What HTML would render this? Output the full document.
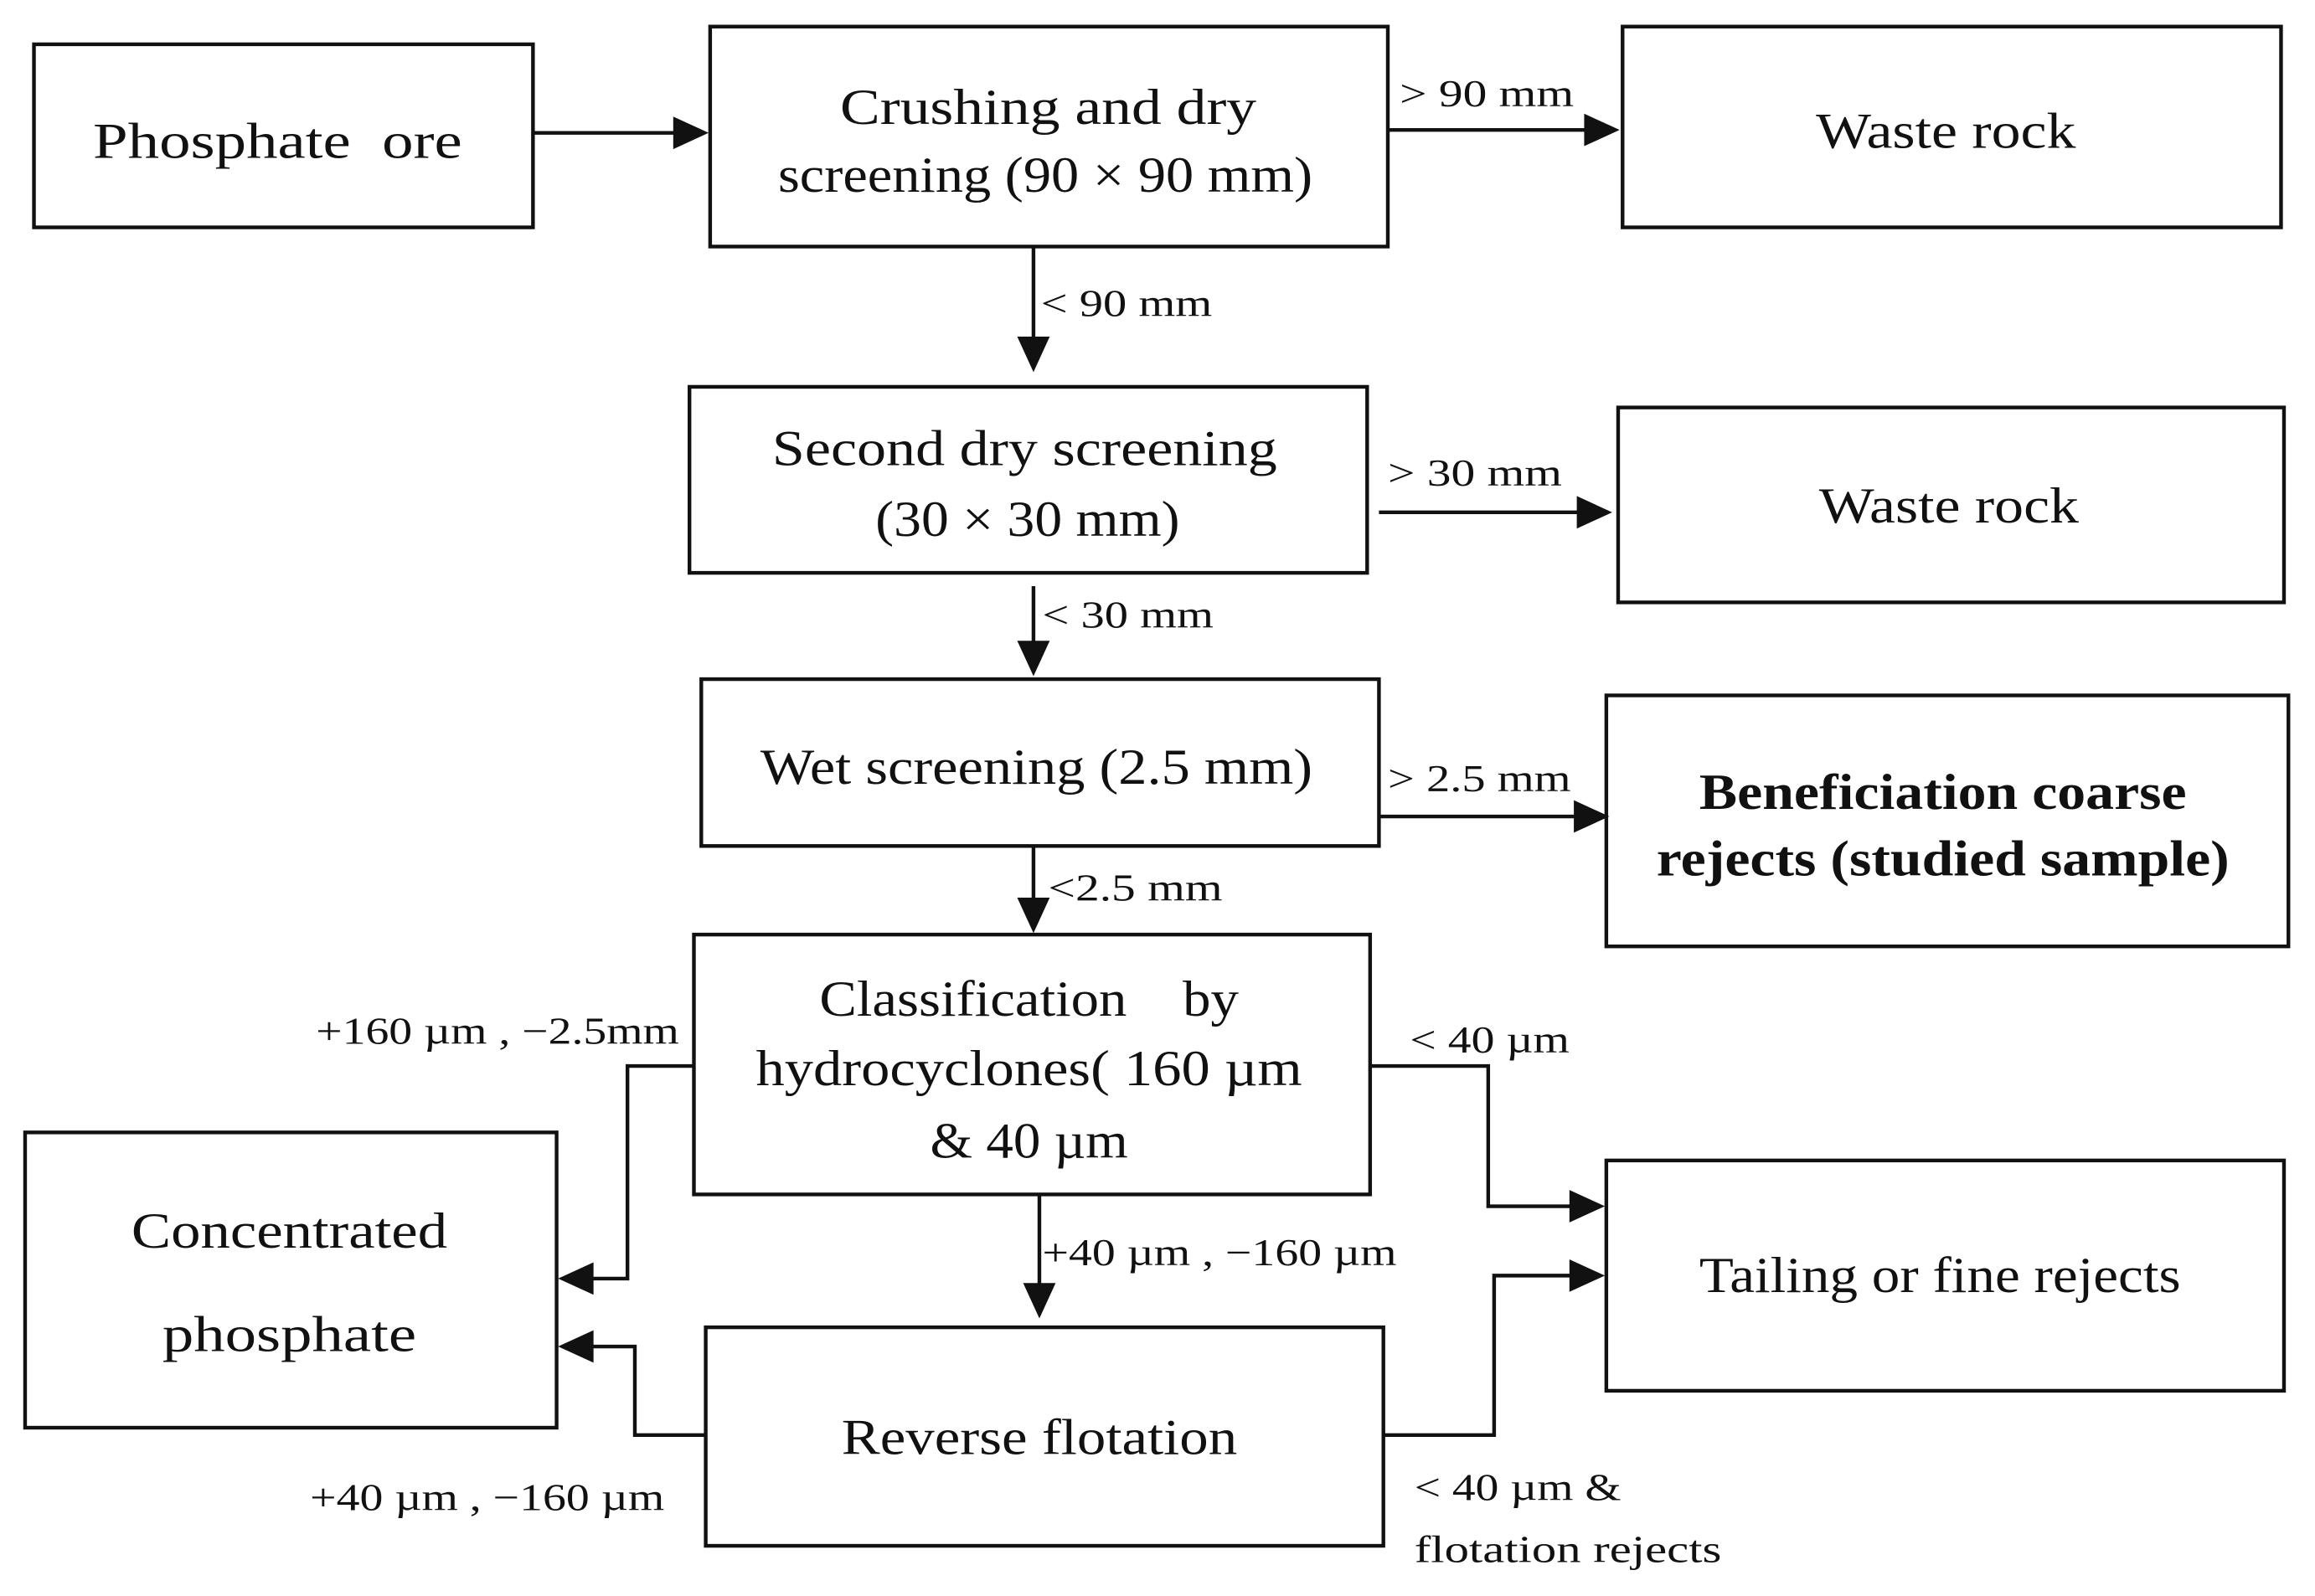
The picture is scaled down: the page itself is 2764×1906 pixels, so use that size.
<!DOCTYPE html>
<html><head><meta charset="utf-8"><style>html,body{margin:0;padding:0;background:#fff}svg{display:block}</style></head>
<body>
<svg width="2764" height="1906" viewBox="0 0 1568 1081" preserveAspectRatio="none" xmlns="http://www.w3.org/2000/svg" font-family="'Liberation Serif', serif" fill="#111">
<g fill="none" stroke="#111" stroke-width="2.5">
<rect x="23" y="30" width="338" height="124"/>
<rect x="481" y="18" width="459" height="149"/>
<rect x="1099" y="18" width="446" height="136"/>
<rect x="467" y="262" width="459" height="126"/>
<rect x="1096" y="276" width="451" height="132"/>
<rect x="475" y="460" width="459" height="113"/>
<rect x="1088" y="471" width="462" height="170"/>
<rect x="470" y="633" width="458" height="176"/>
<rect x="17" y="767" width="360" height="200"/>
<rect x="478" y="899" width="459" height="148"/>
<rect x="1088" y="786" width="459" height="156"/>
<polyline points="361,90 458,90"/>
<polyline points="940,88 1075,88"/>
<polyline points="700,167 700,230"/>
<polyline points="934,347 1070,347"/>
<polyline points="700,397 700,436"/>
<polyline points="934,553 1068,553"/>
<polyline points="700,573 700,610"/>
<polyline points="470,722 425,722 425,866 400,866"/>
<polyline points="928,722 1008,722 1008,817 1065,817"/>
<polyline points="704,809 704,871"/>
<polyline points="478,972 430,972 430,912 400,912"/>
<polyline points="937,972 1012,972 1012,864 1065,864"/>
</g>
<g fill="#111">
<polygon points="480,90 456,79 456,101"/>
<polygon points="1097,88 1073,77 1073,99"/>
<polygon points="700,252 689,228 711,228"/>
<polygon points="1092,347 1068,336 1068,358"/>
<polygon points="700,458 689,434 711,434"/>
<polygon points="1090,553 1066,542 1066,564"/>
<polygon points="700,632 689,608 711,608"/>
<polygon points="378,866 402,855 402,877"/>
<polygon points="1087,817 1063,806 1063,828"/>
<polygon points="704,893 693,869 715,869"/>
<polygon points="378,912 402,901 402,923"/>
<polygon points="1087,864 1063,853 1063,875"/>
</g>
<g font-size="34" text-anchor="middle">
<text x="188" y="107" textLength="250" lengthAdjust="spacingAndGlyphs">Phosphate&#160; ore</text>
<text x="710" y="84" textLength="282" lengthAdjust="spacingAndGlyphs">Crushing and dry</text>
<text x="708" y="130" textLength="362" lengthAdjust="spacingAndGlyphs">screening (90 × 90 mm)</text>
<text x="1318" y="100" textLength="176" lengthAdjust="spacingAndGlyphs">Waste rock</text>
<text x="694" y="315" textLength="342" lengthAdjust="spacingAndGlyphs">Second dry screening</text>
<text x="696" y="363" textLength="206" lengthAdjust="spacingAndGlyphs">(30 × 30 mm)</text>
<text x="1320" y="354" textLength="176" lengthAdjust="spacingAndGlyphs">Waste rock</text>
<text x="702" y="531" textLength="374" lengthAdjust="spacingAndGlyphs">Wet screening (2.5 mm)</text>
<text x="1316" y="548" font-weight="bold" textLength="330" lengthAdjust="spacingAndGlyphs">Beneficiation coarse</text>
<text x="1316" y="593" font-weight="bold" textLength="388" lengthAdjust="spacingAndGlyphs">rejects (studied sample)</text>
<text x="697" y="688" textLength="284" lengthAdjust="spacingAndGlyphs">Classification&#160;&#160;&#160; by</text>
<text x="697" y="735" textLength="370" lengthAdjust="spacingAndGlyphs">hydrocyclones( 160 µm</text>
<text x="697" y="784" textLength="134" lengthAdjust="spacingAndGlyphs">&amp; 40 µm</text>
<text x="196" y="845" textLength="214" lengthAdjust="spacingAndGlyphs">Concentrated</text>
<text x="196" y="915" textLength="172" lengthAdjust="spacingAndGlyphs">phosphate</text>
<text x="704" y="985" textLength="268" lengthAdjust="spacingAndGlyphs">Reverse flotation</text>
<text x="1314" y="875" textLength="326" lengthAdjust="spacingAndGlyphs">Tailing or fine rejects</text>
</g>
<g font-size="26">
<text x="948" y="72" textLength="118" lengthAdjust="spacingAndGlyphs">&gt; 90 mm</text>
<text x="705" y="214" textLength="116" lengthAdjust="spacingAndGlyphs">&lt; 90 mm</text>
<text x="940" y="329" textLength="118" lengthAdjust="spacingAndGlyphs">&gt; 30 mm</text>
<text x="706" y="425" textLength="116" lengthAdjust="spacingAndGlyphs">&lt; 30 mm</text>
<text x="940" y="536" textLength="124" lengthAdjust="spacingAndGlyphs">&gt; 2.5 mm</text>
<text x="710" y="610" textLength="118" lengthAdjust="spacingAndGlyphs">&lt;2.5 mm</text>
<text x="214" y="707" textLength="246" lengthAdjust="spacingAndGlyphs">+160 µm , −2.5mm</text>
<text x="955" y="713" textLength="108" lengthAdjust="spacingAndGlyphs">&lt; 40 µm</text>
<text x="706" y="857" textLength="240" lengthAdjust="spacingAndGlyphs">+40 µm , −160 µm</text>
<text x="210" y="1023" textLength="240" lengthAdjust="spacingAndGlyphs">+40 µm , −160 µm</text>
<text x="958" y="1016" textLength="140" lengthAdjust="spacingAndGlyphs">&lt; 40 µm &amp;</text>
<text x="958" y="1058" textLength="208" lengthAdjust="spacingAndGlyphs">flotation rejects</text>
</g>
</svg>
</body></html>
